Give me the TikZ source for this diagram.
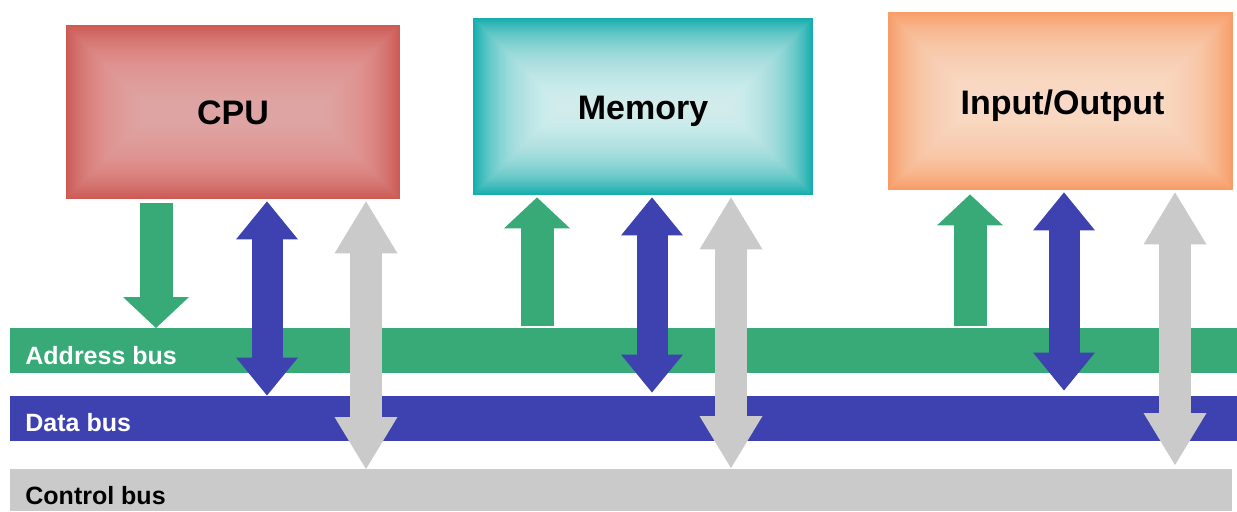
\documentclass[tikz,border=0pt]{standalone}
\usepackage{fontspec}
\setmainfont{Liberation Sans}
\usetikzlibrary{arrows.meta}
\definecolor{cpuedge}{RGB}{206,90,84}
\definecolor{cpumid}{RGB}{240,182,182}
\definecolor{memedge}{RGB}{24,174,174}
\definecolor{memmid}{RGB}{240,253,253}
\definecolor{ioedge}{RGB}{248,156,104}
\definecolor{iomid}{RGB}{254,234,216}
\definecolor{busgreen}{RGB}{55,170,120}
\definecolor{busblue}{RGB}{62,66,176}
\definecolor{busgray}{RGB}{202,202,202}
\tikzset{
  unitbox/.style={draw=none, inner sep=0pt},
  unitlabel/.style={inner sep=0pt, text depth=0pt, font=\bfseries\fontsize{17}{20}\selectfont, text=black},
  busbar/.style={draw=none, inner sep=0pt, anchor=north west, minimum height=22.5pt},
  buslabel/.style={anchor=west, inner sep=0pt, text depth=0pt, font=\bfseries\fontsize{12.5}{15}\selectfont},
  greenarrow/.style={draw=busgreen, line width=16.5pt, -{Triangle[width=33pt,length=15.5pt,line width=0pt]}},
  bluearrow/.style={draw=busblue, line width=15.5pt, {Triangle[width=31pt,length=19pt,line width=0pt]}-{Triangle[width=31pt,length=19pt,line width=0pt]}},
  grayarrow/.style={draw=busgray, line width=16pt, {Triangle[width=31.5pt,length=26pt,line width=0pt]}-{Triangle[width=31.5pt,length=26pt,line width=0pt]}},
}
\newcommand\glowbox[2]{%
  \foreach \d in {2,4,...,84} {%
    \fill[#2, opacity=0.055] ([xshift=\d*0.5pt, yshift=\d*0.5pt]#1.south west) rectangle ([xshift=-\d*0.5pt, yshift=-\d*0.5pt]#1.north east);
  }%
}
\begin{document}
\begin{tikzpicture}[x=0.5pt,y=-0.5pt]
\useasboundingbox (0,0) rectangle (1237,511);
\fill[white] (0,0) rectangle (1237,511);
% units
\node[unitbox, fill=cpuedge, minimum width=167pt, minimum height=87pt] (cpu) at (233,112) {};
\node[unitbox, fill=memedge, minimum width=170pt, minimum height=88.5pt] (mem) at (643,106.5) {};
\node[unitbox, fill=ioedge, minimum width=172.5pt, minimum height=89pt] (io) at (1060.5,101) {};
\glowbox{cpu}{cpumid}
\glowbox{mem}{memmid}
\glowbox{io}{iomid}
\node[unitlabel] (cpulabel) at ([yshift=-0.5pt]cpu.center) {CPU};
\node[unitlabel] (memlabel) at ([yshift=-0.5pt]mem.center) {Memory};
\node[unitlabel] (iolabel) at ([xshift=1pt,yshift=-0.5pt]io.center) {Input/Output};
% buses
\node[busbar, fill=busgreen, minimum width=613.5pt] (addr) at (10,328) {};
\node[busbar, fill=busblue, minimum width=613.5pt] (data) at (10,395.5) {};
\node[busbar, fill=busgray, minimum width=611pt, minimum height=21pt] (ctrl) at (10,469) {};
\node[buslabel, text=white] (addrlabel) at ([xshift=7.5pt,yshift=-2.5pt]addr.west) {Address bus};
\node[buslabel, text=white] (datalabel) at ([xshift=7.5pt,yshift=-1.8pt]data.west) {Data bus};
\node[buslabel, text=black] (ctrllabel) at ([xshift=7.5pt,yshift=-2.5pt]ctrl.west) {Control bus};
% CPU connectors
\draw[greenarrow] ([yshift=-2pt]cpu.south -| 156,0) -- (addr.north -| 156,0);
\draw[bluearrow] ([yshift=-1pt]cpu.south -| 267,0) -- (data.north -| 267,0);
\draw[grayarrow] ([yshift=-1pt]cpu.south -| 366,0) -- (ctrl.north -| 366,0);
% Memory connectors
\draw[greenarrow] ([yshift=1pt]addr.north -| 537,0) -- ([yshift=-1pt]mem.south -| 537,0);
\draw[bluearrow] ([yshift=-1pt]mem.south -| 652,0) -- ([yshift=1.5pt]data.north -| 652,0);
\draw[grayarrow] ([yshift=-1pt]mem.south -| 731,0) -- ([yshift=0.5pt]ctrl.north -| 731,0);
% I/O connectors
\draw[greenarrow] ([yshift=1pt]addr.north -| 970,0) -- ([yshift=-2pt]io.south -| 970,0);
\draw[bluearrow] ([yshift=-1pt]io.south -| 1064,0) -- ([yshift=2.5pt]data.north -| 1064,0);
\draw[grayarrow] ([yshift=-1pt]io.south -| 1175,0) -- ([yshift=2pt]ctrl.north -| 1175,0);
\end{tikzpicture}
\end{document}
